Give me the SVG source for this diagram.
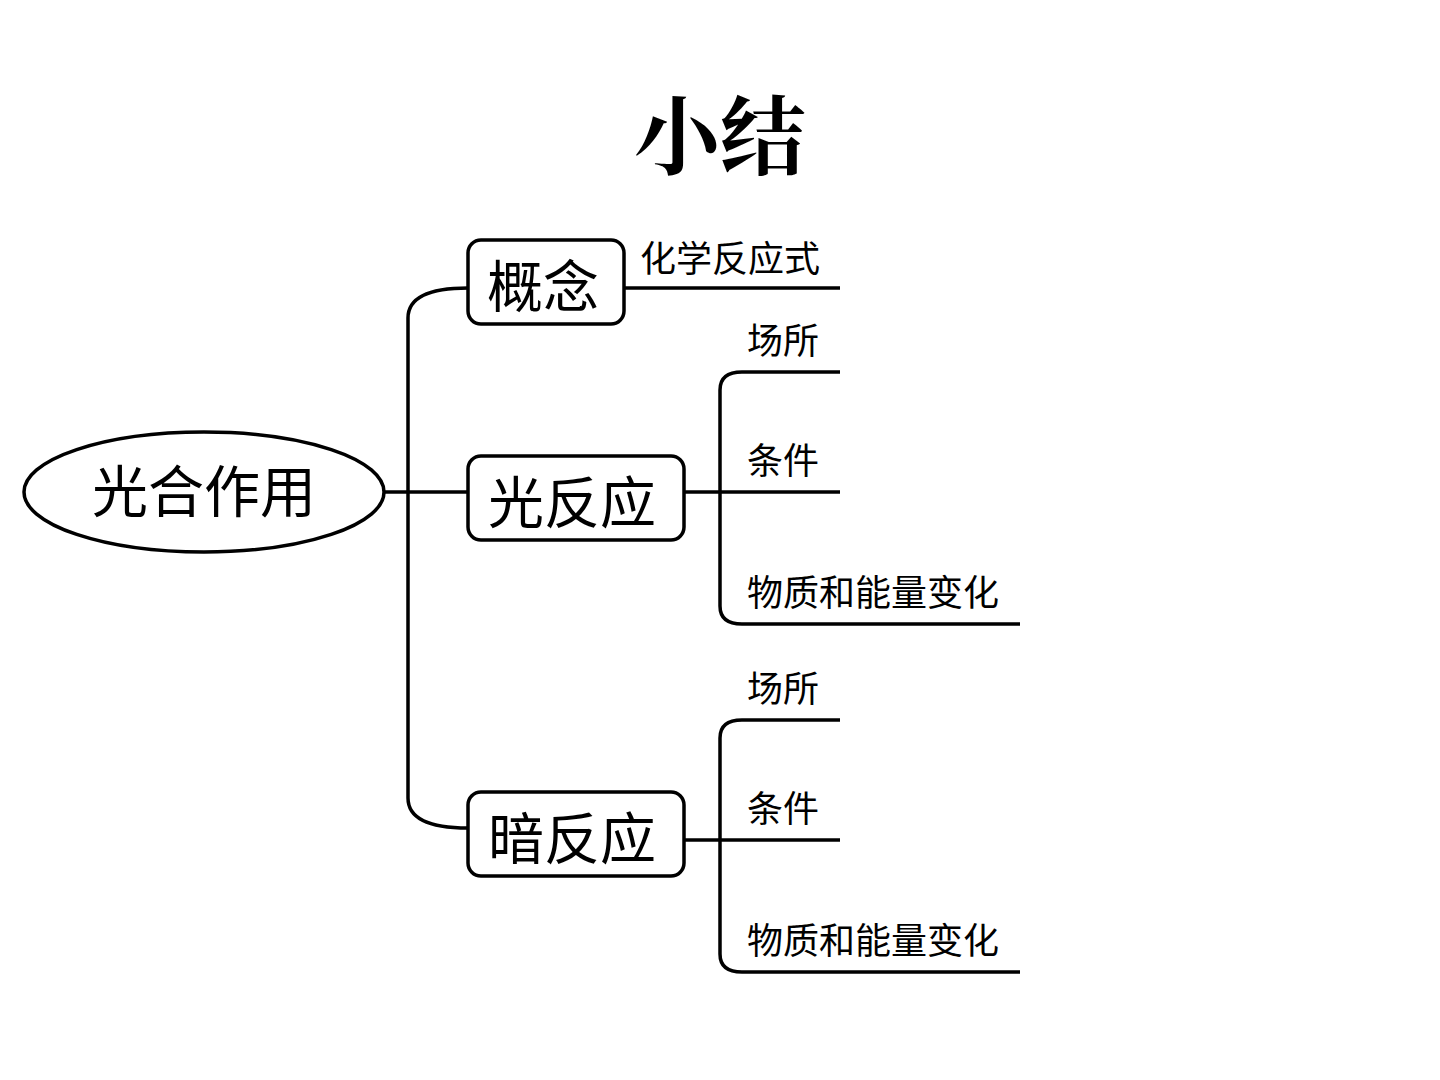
<svg xmlns="http://www.w3.org/2000/svg" width="1440" height="1080" viewBox="0 0 1440 1080">
<style>
text{font-family:"Noto Sans CJK SC","Noto Sans CJK JP",sans-serif;fill:#000}
.big{font-size:56px}
.sm{font-size:36px}
.box{fill:#fff;stroke:#000;stroke-width:3.5}
.ln{fill:none;stroke:#000;stroke-width:3.5}
</style>
<rect width="1440" height="1080" fill="#fff"/>
<text x="720" y="168" font-size="86" font-weight="700" text-anchor="middle" style="font-family:'Noto Serif CJK SC','Noto Sans CJK SC',serif">小结</text>
<g id="connectors">
<path class="ln" d="M384,492 L468,492"/>
<path class="ln" d="M468,288 Q408,288 408,318 L408,798 Q408,828 468,828"/>
<path class="ln" d="M624,288 L840,288"/>
<path class="ln" d="M684,492 L840,492"/>
<path class="ln" d="M840,372 L742,372 Q720,372 720,390 L720,606 Q720,624 742,624 L1020,624"/>
<path class="ln" d="M684,840 L840,840"/>
<path class="ln" d="M840,720 L742,720 Q720,720 720,738 L720,954 Q720,972 742,972 L1020,972"/>
</g>
<g id="root">
<ellipse class="box" cx="204" cy="492" rx="180" ry="60"/>
<text class="big" x="204" y="512" text-anchor="middle">光合作用</text>
</g>
<g id="n-concept">
<rect class="box" x="468" y="240" width="156" height="84" rx="13"/>
<text class="big" x="543" y="307" text-anchor="middle">概念</text>
</g>
<g id="n-light">
<rect class="box" x="468" y="456" width="216" height="84" rx="13"/>
<text class="big" x="572" y="523" text-anchor="middle">光反应</text>
</g>
<g id="n-dark">
<rect class="box" x="468" y="792" width="216" height="84" rx="13"/>
<text class="big" x="572" y="859" text-anchor="middle">暗反应</text>
</g>
<g id="leaf-formula"><text class="sm" x="640" y="272">化学反应式</text></g>
<g id="leaf-l1"><text class="sm" x="747" y="354">场所</text></g>
<g id="leaf-l2"><text class="sm" x="747" y="474">条件</text></g>
<g id="leaf-l3"><text class="sm" x="747" y="606">物质和能量变化</text></g>
<g id="leaf-d1"><text class="sm" x="747" y="702">场所</text></g>
<g id="leaf-d2"><text class="sm" x="747" y="822">条件</text></g>
<g id="leaf-d3"><text class="sm" x="747" y="954">物质和能量变化</text></g>
</svg>
